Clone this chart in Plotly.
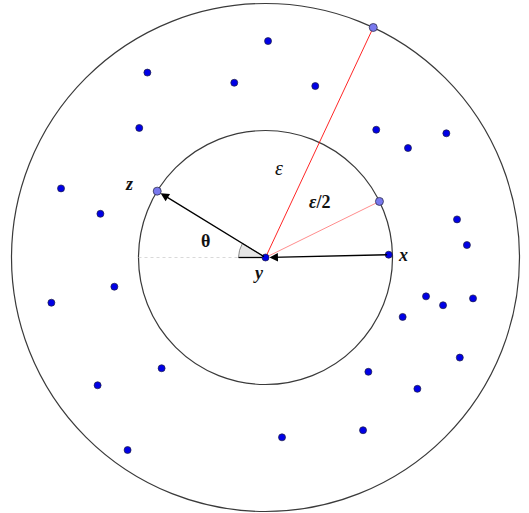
import numpy as np
import plotly.graph_objects as go

# --- data (units: outer radius = epsilon = 1) ---
outer_radius = 1.0
inner_radius = 0.5
dots_x = [0.010, -0.465, -0.123, 0.196, -0.497, 0.436, 0.712, 0.561, -0.805, -0.650,
          0.754, 0.793, -0.595, -0.843, 0.632, 0.699, 0.817, 0.540, 0.765, -0.409,
          0.405, -0.661, 0.598, -0.543, 0.065, 0.384]
dots_y = [0.852, 0.728, 0.688, 0.675, 0.510, 0.503, 0.489, 0.431, 0.272, 0.172,
          0.150, 0.049, -0.115, -0.178, -0.153, -0.188, -0.161, -0.234, -0.394, -0.436,
          -0.450, -0.503, -0.517, -0.758, -0.708, -0.680]
center = (0.0, 0.0)
point_x = (0.485, 0.011)
angle_eps = 64.9      # degrees, point on outer circle
angle_eps2 = 26.2     # degrees, point on inner circle
angle_z = 148.5       # degrees, point z on inner circle
theta_radius = 0.106

def polar(r, deg):
    return (r * np.cos(np.radians(deg)), r * np.sin(np.radians(deg)))

p_eps = polar(outer_radius, angle_eps)
p_eps2 = polar(inner_radius, angle_eps2)
p_z = polar(inner_radius, angle_z)

fig = go.Figure()

# circles
for r in (outer_radius, inner_radius):
    fig.add_shape(type="circle", xref="x", yref="y", x0=-r, y0=-r, x1=r, y1=r,
                  line=dict(color="#3a3a3a", width=1.2), layer="below")

# dotted horizontal reference
fig.add_trace(go.Scatter(x=[-inner_radius, 0], y=[0, 0], mode="lines",
                         line=dict(color="#cfcfcf", width=0.8, dash="dot"), hoverinfo="skip"))

# theta wedge
angs = np.linspace(angle_z, 180, 30)
wx = [0] + list(theta_radius * np.cos(np.radians(angs))) + [0]
wy = [0] + list(theta_radius * np.sin(np.radians(angs))) + [0]
fig.add_trace(go.Scatter(x=wx, y=wy, mode="lines", fill="toself", fillcolor="#e6e6e6",
                         line=dict(color="#707070", width=0.8), hoverinfo="skip"))
fig.add_trace(go.Scatter(x=[-theta_radius, 0], y=[0, 0], mode="lines",
                         line=dict(color="black", width=1.3), hoverinfo="skip"))

# red lines
fig.add_trace(go.Scatter(x=[0, p_eps[0]], y=[0, p_eps[1]], mode="lines",
                         line=dict(color="rgba(255,0,0,0.85)", width=1), hoverinfo="skip"))
fig.add_trace(go.Scatter(x=[0, p_eps2[0]], y=[0, p_eps2[1]], mode="lines",
                         line=dict(color="rgba(255,0,0,0.45)", width=1), hoverinfo="skip"))

# arrows
fig.add_annotation(x=0, y=0, ax=point_x[0], ay=point_x[1], xref="x", yref="y",
                   axref="x", ayref="y", showarrow=True, arrowhead=2, arrowsize=1.3,
                   arrowwidth=1.3, arrowcolor="black", standoff=4, text="")
fig.add_annotation(x=p_z[0], y=p_z[1], ax=0, ay=0, xref="x", yref="y",
                   axref="x", ayref="y", showarrow=True, arrowhead=2, arrowsize=1.3,
                   arrowwidth=1.3, arrowcolor="black", standoff=4, text="")

# dots
fig.add_trace(go.Scatter(x=dots_x, y=dots_y, mode="markers",
                         marker=dict(size=7, color="#0000e6", line=dict(color="#202040", width=0.7)),
                         hoverinfo="skip"))
fig.add_trace(go.Scatter(x=[center[0], point_x[0]], y=[center[1], point_x[1]], mode="markers",
                         marker=dict(size=7, color="#0000e6", line=dict(color="#202040", width=0.7)),
                         hoverinfo="skip"))
fig.add_trace(go.Scatter(x=[p_eps[0], p_eps2[0], p_z[0]], y=[p_eps[1], p_eps2[1], p_z[1]],
                         mode="markers",
                         marker=dict(size=8, color="#7878ee", line=dict(color="#303050", width=0.8)),
                         hoverinfo="skip"))

# labels
font = dict(family="Liberation Serif", size=18, color="#111")
labels = [
    ("<b><i>z</i></b>", -0.536, 0.290),
    ("<b>θ</b>", -0.238, 0.064),
    ("<b><i>y</i></b>", -0.026, -0.062),
    ("<b><i>x</i></b>", 0.540, 0.011),
    ("<i>ε</i>", 0.053, 0.354),
    ("<b><i>ε</i>/2</b>", 0.212, 0.219),
]
for t, lx, ly in labels:
    fig.add_annotation(x=lx, y=ly, xref="x", yref="y", text=t, showarrow=False,
                       font=dict(font, size=20) if t == "<i>ε</i>" else font)

fig.update_layout(
    width=529, height=513, autosize=False,
    margin=dict(l=0, r=0, t=0, b=0),
    paper_bgcolor="white", plot_bgcolor="white", showlegend=False,
    xaxis=dict(range=[-265.5 / 254, 263.5 / 254], visible=False, showgrid=False, zeroline=False),
    yaxis=dict(range=[-255.5 / 254, 257.5 / 254], visible=False, showgrid=False, zeroline=False),
)
fig.write_html("out.html", config={"displayModeBar": False},
               post_script="document.body.style.margin='0';document.body.style.overflow='hidden';")
